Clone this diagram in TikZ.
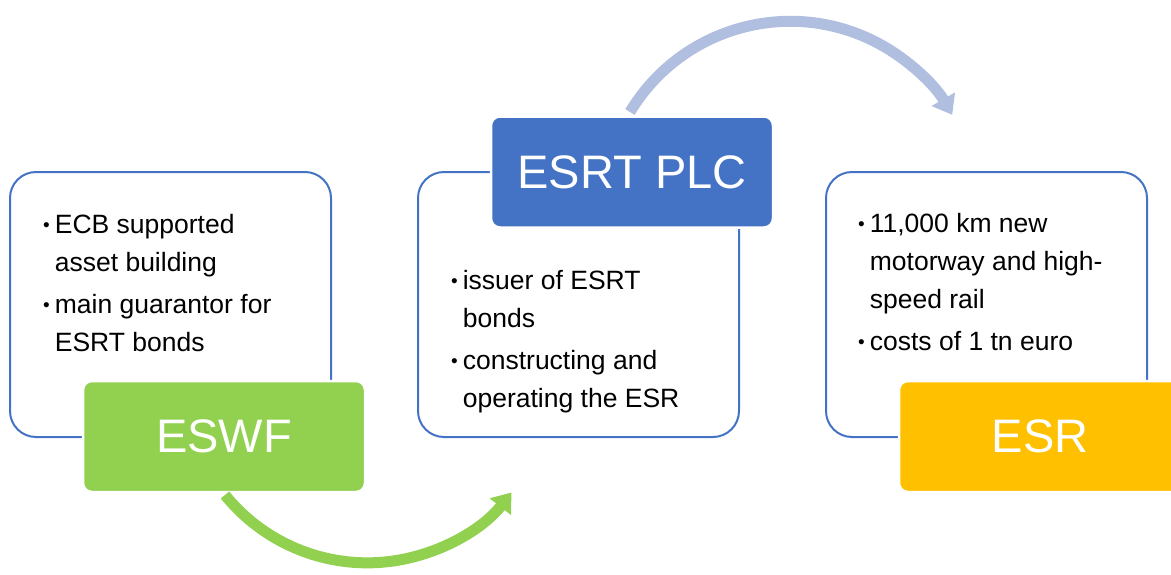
\documentclass[tikz,border=0pt]{standalone}
\usepackage{fontspec}
\setmainfont{Liberation Sans}
\usetikzlibrary{arrows.meta}
\definecolor{accblue}{HTML}{4472C4}
\definecolor{accgreen}{HTML}{92D050}
\definecolor{accgold}{HTML}{FFC000}
\definecolor{paleblue}{RGB}{176,190,223}
\newcommand{\bul}{{\fontsize{19}{19}\selectfont\raisebox{2pt}{\textbullet}}}

\begin{document}
\begin{tikzpicture}
[x=1pt,y=-1pt,every node/.style={inner sep=0pt},
 panel/.style={draw=accblue,line width=2pt,fill=white,rounded corners=26pt,minimum width=321pt,minimum height=265pt},
 tag/.style={draw=white,line width=2.5pt,rounded corners=9pt,minimum width=282pt,minimum height=111pt,text=white,font=\fontsize{47}{50}\selectfont},
 notes/.style={anchor=base west,font=\fontsize{26.5}{38}\selectfont},
 flow/.style={line width=11pt,-{Triangle[length=18pt,width=26pt]}}]

  \clip (0,0) rectangle (1171,574);

  \foreach \nm/\x in {eswf/170.5,esrt/578.5,esr/986.5}
    \node (\nm panel) at (\x,304.5) [panel] {};

  \node (eswftext) at (43,233) [notes] {\begin{tabular}[t]{@{}l@{\hspace{5pt}}l@{}}
    \bul & ECB supported\\ & asset building\\[4pt]
    \bul & main guarantor for\\ & ESRT bonds\end{tabular}};
  \node (esrttext) at (451,289) [notes] {\begin{tabular}[t]{@{}l@{\hspace{5pt}}l@{}}
    \bul & issuer of ESRT\\ & bonds\\[4pt]
    \bul & constructing and\\ & operating the ESR\end{tabular}};
  \node (esrtext) at (858,232) [notes] {\begin{tabular}[t]{@{}l@{\hspace{5pt}}l@{}}
    \bul & 11,000 km new\\ & motorway and high-\\ & speed rail\\[4pt]
    \bul & costs of 1 tn euro\end{tabular}};

  \node (eswf) at (224,436.5) [tag,fill=accgreen] {ESWF};
  \node (esrt) at (632,172) [tag,fill=accblue] {ESRT PLC};
  \node (esr) at (1040,436.5) [tag,fill=accgold] {ESR};

  \coordinate (g0) at (225,495);
  \coordinate (b0) at (630,112);
  \draw[flow,accgreen] (g0) arc[start angle=141,end angle=38,radius=183];
  \draw[flow,paleblue] (b0) arc[start angle=-149,end angle=-30,radius=187];
\end{tikzpicture}
\end{document}
